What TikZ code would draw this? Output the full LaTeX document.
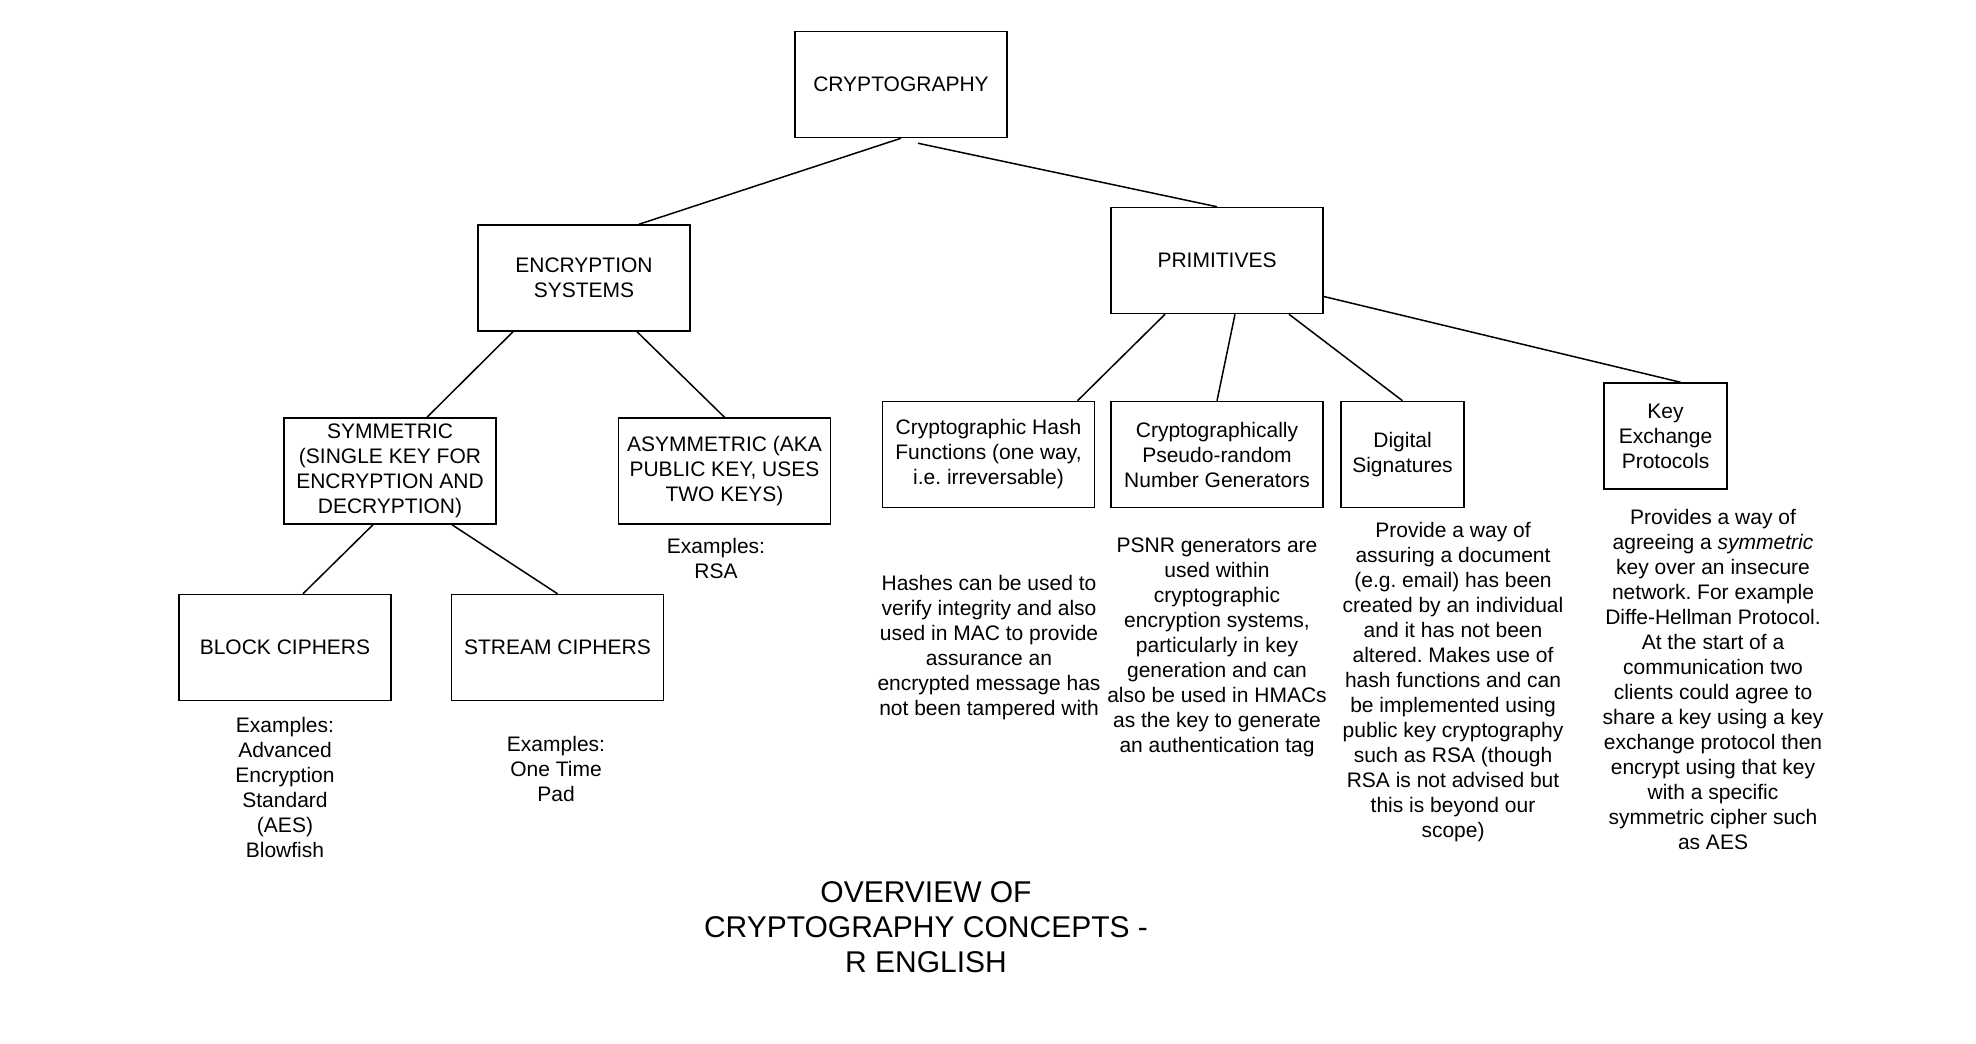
\documentclass[tikz,border=0pt]{standalone}
\usepackage{fontspec}
\setmainfont{Liberation Sans}
\usetikzlibrary{calc}
\frenchspacing

\begin{document}
\begin{tikzpicture}[x=0.5pt, y=-0.5pt, line width=0.75pt,
  font=\fontsize{10.5}{12.5}\selectfont,
  B/.style={draw, minimum width=106pt, minimum height=53pt, align=center, inner sep=2pt},
  S/.style={B, minimum width=61.5pt},
  T/.style={align=center, inner sep=0pt}]

\useasboundingbox (0,0) rectangle (1976,1044);

% tree of boxes
\node[B] (crypto) at (901, 84.5)  {CRYPTOGRAPHY};
\node[B] (enc)    at (584, 278)   {ENCRYPTION\\SYSTEMS};
\node[B] (prim)   at (1217, 260.5) {PRIMITIVES};
\node[B] (sym)    at (390, 471)   {SYMMETRIC\\(SINGLE KEY FOR\\ENCRYPTION AND\\DECRYPTION)};
\node[B] (asym)   at (724.5, 471) {ASYMMETRIC (AKA\\PUBLIC KEY, USES\\TWO KEYS)};
\node[B] (block)  at (285, 647.5) {BLOCK CIPHERS};
\node[B] (stream) at (557.5, 647.5) {STREAM CIPHERS};
\node[B] (hash)   at (988.5, 454.5) {Cryptographic Hash\\Functions (one way,\\i.e. irreversable)};
\node[B] (csprng) at (1217, 454.5) {Cryptographically\\Pseudo-random\\Number Generators};
\node[S] (digsig) at (1402.5, 454.5) {Digital\\Signatures};
\node[S] (keyex)  at (1665.5, 436) {Key\\Exchange\\Protocols};

\draw (crypto.south) -- ($(enc.north)+(55,0)$);
\draw ($(crypto.south)+(17,5)$) -- (prim.north);
\draw ($(enc.south)+(-71,0)$) -- ($(sym.north)+(37,0)$);
\draw ($(enc.south)+(53,0)$) -- (asym.north);
\draw ($(sym.south)+(-17,0)$) -- ($(block.north)+(18,0)$);
\draw ($(sym.south)+(62,0)$) -- (stream.north);
\draw ($(prim.south)+(-52,0)$) -- ($(hash.north)+(89,0)$);
\draw ($(prim.south)+(18,0)$) -- (csprng.north);
\draw ($(prim.south)+(72,0)$) -- (digsig.north);
\draw ($(prim.east)+(0,36)$) -- ($(keyex.north)+(15,0)$);

% notes under the boxes
\node[T] (blockex)  at (285, 787)  {Examples:\\Advanced\\Encryption\\Standard\\(AES)\\Blowfish};
\node[T] (streamex) at (556, 769)  {Examples:\\One Time\\Pad};
\node[T] (asymex)   at (716, 558)  {Examples:\\RSA};
\node[T] (hashtxt)  at (989, 648)  {Hashes can be used to\\verify integrity and also\\used in MAC to provide\\assurance an\\encrypted message has\\not been tampered with};
\node[T] (prngtxt)  at (1217, 647) {PSNR generators are\\used within\\cryptographic\\encryption systems,\\particularly in key\\generation and can\\also be used in HMACs\\as the key to generate\\an authentication tag};
\node[T] (sigtxt)   at (1453, 682) {Provide a way of\\assuring a document\\(e.g. email) has been\\created by an individual\\and it has not been\\altered. Makes use of\\hash functions and can\\be implemented using\\public key cryptography\\such as RSA (though\\RSA is not advised but\\this is beyond our\\scope)};
\node[T] (keytxt)   at (1713, 679) {Provides a way of\\agreeing a \textit{symmetric}\\key over an insecure\\network. For example\\Diffe-Hellman Protocol.\\At the start of a\\communication two\\clients could agree to\\share a key using a key\\exchange protocol then\\encrypt using that key\\with a specific\\symmetric cipher such\\as AES};

\node[T, font=\fontsize{15}{17.5}\selectfont] (title) at (926, 927) {OVERVIEW OF\\CRYPTOGRAPHY CONCEPTS -\\R ENGLISH};

\end{tikzpicture}
\end{document}
